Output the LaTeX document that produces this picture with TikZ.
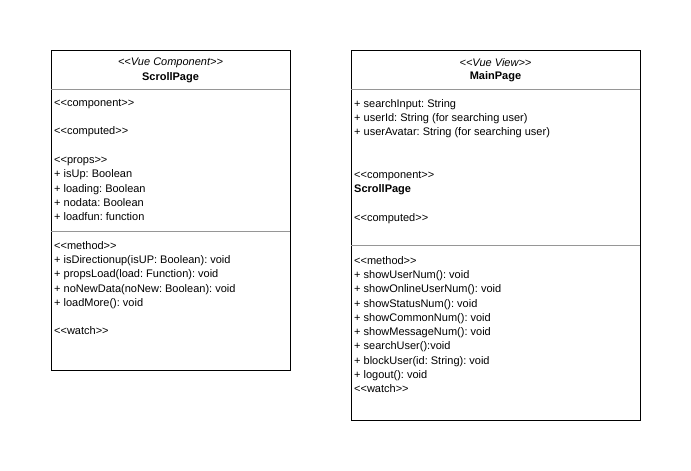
\documentclass[tikz,border=0pt]{standalone}
\usepackage{fontspec}
\setmainfont{Liberation Sans}
\usetikzlibrary{positioning, calc}
\frenchspacing

\definecolor{sepgray}{RGB}{150,150,150}
\newcommand{\stereo}[1]{<{}<#1>{}>}

\tikzset{
  classbox/.style={draw=black, line width=0.8pt, fill=white},
  sepline/.style={draw=sepgray, line width=0.8pt},
  head/.style={font=\fontsize{11}{14}\selectfont, align=center, inner sep=0pt},
  members/.style={font=\fontsize{11}{14.3}\selectfont, align=left, anchor=north west, inner sep=0pt}
}

\begin{document}
\begin{tikzpicture}[x=1pt, y=-1pt]
    \useasboundingbox (0,0) rectangle (691,471);

    % Boxes
    \coordinate (SPnw) at (51,50);
    \coordinate (SPse) at (290,370);
    \coordinate (MPnw) at (351,50);
    \coordinate (MPse) at (640,420);
    \draw[classbox] (SPnw) rectangle (SPse);
    \draw[classbox] (MPnw) rectangle (MPse);

    % Compartment lines
    \draw[sepline] (51,89) -- (290,89);
    \draw[sepline] (51,231) -- (290,231);
    \draw[sepline] (351,89) -- (640,89);
    \draw[sepline] (351,245) -- (640,245);

    % ScrollPage
    \node[head] (spStereo) at (170.5,62.5) {\itshape\stereo{Vue Component}};
    \node[head, below=4.5pt of spStereo] (spName) {\bfseries ScrollPage};
    \node[members] (spAttr) at (54,99) {\stereo{component}\\ \mbox{}\\ \stereo{computed}\\ \mbox{}\\
      \stereo{props}\\ + isUp: Boolean\\ + loading: Boolean\\ + nodata: Boolean\\ + loadfun: function};
    \node[members] (spOps) at (54,241) {\stereo{method}\\ + isDirectionup(isUP: Boolean): void\\
      + propsLoad(load: Function): void\\ + noNewData(noNew: Boolean): void\\ + loadMore(): void\\
      \mbox{}\\ \stereo{watch}};

    % MainPage
    \node[head] (mpStereo) at (495.5,62.5) {\itshape\stereo{Vue View}};
    \node[head, below=4.5pt of mpStereo] (mpName) {\bfseries MainPage};
    \node[members] (mpAttr) at (354,99) {+ searchInput: String\\ + userId: String (for searching user)\\
      + userAvatar: String (for searching user)\\ \mbox{}\\ \mbox{}\\ \stereo{component}\\
      \textbf{ScrollPage}\\ \mbox{}\\ \stereo{computed}};
    \node[members] (mpOps) at (354,256) {\stereo{method}\\ + showUserNum(): void\\ + showOnlineUserNum(): void\\
      + showStatusNum(): void\\ + showCommonNum(): void\\ + showMessageNum(): void\\ + searchUser():void\\
      + blockUser(id: String): void\\ + logout(): void\\ \stereo{watch}};

\end{tikzpicture}
\end{document}
